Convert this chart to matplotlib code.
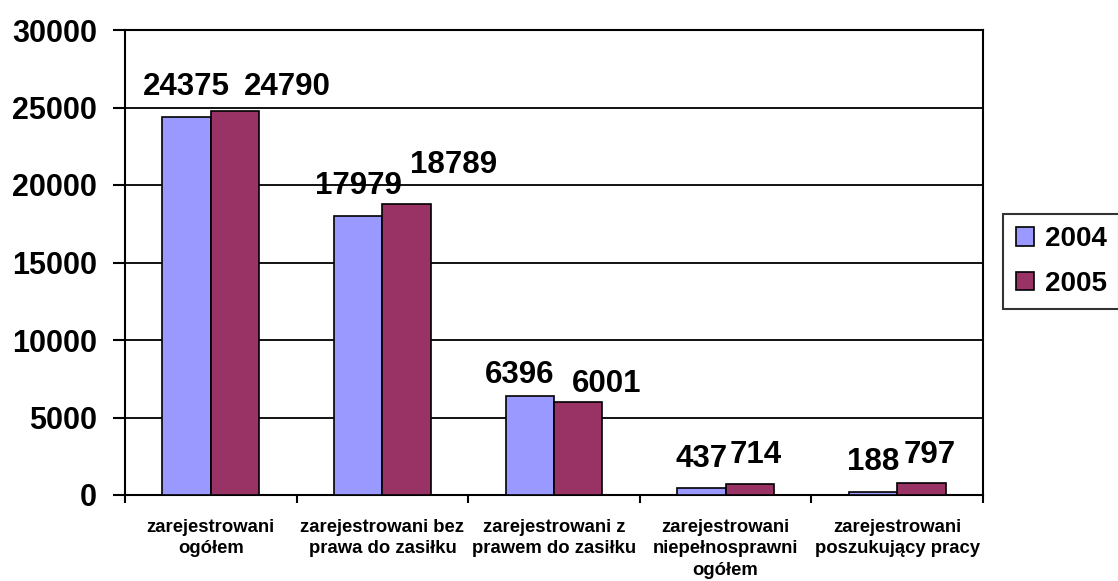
import matplotlib
matplotlib.use("Agg")
import matplotlib.pyplot as plt
import numpy as np

categories = [
    "zarejestrowani\nogółem",
    "zarejestrowani bez\nprawa do zasiłku",
    "zarejestrowani z\nprawem do zasiłku",
    "zarejestrowani\nniepełnosprawni\nogółem",
    "zarejestrowani\nposzukujący pracy",
]
series_names = ["2004", "2005"]
values_2004 = [24375, 17979, 6396, 437, 188]
values_2005 = [24790, 18789, 6001, 714, 797]
y_ticks = [0, 5000, 10000, 15000, 20000, 25000, 30000]

# label placement (pixel offsets: dx from bar centre, dy baseline above bar top)
offsets_2004 = [(0, 22), (0, 22), (-10, 13), (0, 21), (0, 22)]
offsets_2005 = [(52, 16), (47, 31), (28, 10), (6, 21), (8, 20)]

colors = ["#9999FF", "#993366"]

plt.rcParams['font.family'] = ['Liberation Sans', 'DejaVu Sans']
plt.rcParams['font.weight'] = 'bold'

W, H = 1118, 581
fig = plt.figure(figsize=(W / 100, H / 100), dpi=100)
ax = fig.add_axes([125 / W, 1 - 495 / H, (983 - 125) / W, (495 - 30) / H])

x = np.arange(len(categories))
bw = 0.282
b1 = ax.bar(x - bw / 2, values_2004, bw, color=colors[0], edgecolor="black",
            linewidth=1.2, label=series_names[0], zorder=3)
b2 = ax.bar(x + bw / 2, values_2005, bw, color=colors[1], edgecolor="black",
            linewidth=1.2, label=series_names[1], zorder=3)

for bars, vals, offs in ((b1, values_2004, offsets_2004), (b2, values_2005, offsets_2005)):
    for rect, v, (dx, dy) in zip(bars, vals, offs):
        cx = rect.get_x() + rect.get_width() / 2
        ax.annotate(str(v), (cx, v), xytext=(dx, dy), textcoords="offset pixels",
                    ha="center", va="baseline", fontsize=22.5, fontweight="bold",
                    zorder=4)

ax.set_xlim(-0.5, len(categories) - 0.5)
ax.set_ylim(0, 30000)
ax.set_yticks(y_ticks)
ax.set_yticklabels([str(t) for t in y_ticks], fontsize=22, fontweight="bold")
ax.yaxis.grid(True, color="black", linewidth=1.3, zorder=0)
ax.set_axisbelow(True)

ax.set_xticks(x)
ax.set_xticklabels(categories, fontsize=13.3, fontweight="bold", linespacing=1.36)
ax.set_xticks(np.arange(-0.5, len(categories)), minor=True)
ax.tick_params(axis="x", which="major", length=0, pad=17)
ax.tick_params(axis="x", which="minor", length=6, width=1.5, direction="out")
ax.tick_params(axis="y", which="major", length=9, width=1.5, direction="out", pad=11)

for s in ax.spines.values():
    s.set_linewidth(1.5)
    s.set_color("black")

leg = fig.legend(handles=[b1, b2], labels=series_names, loc="center left",
                 bbox_to_anchor=(1003 / W, 1 - 261.5 / H), frameon=True,
                 fancybox=False, shadow=False,
                 prop={"weight": "bold", "size": 20},
                 handlelength=0.65, handleheight=0.65, handletextpad=0.4,
                 borderpad=0.45, labelspacing=0.65, borderaxespad=0)
leg.get_frame().set_edgecolor("black")
leg.get_frame().set_linewidth(1.5)

fig.savefig("out.png", dpi=100)
